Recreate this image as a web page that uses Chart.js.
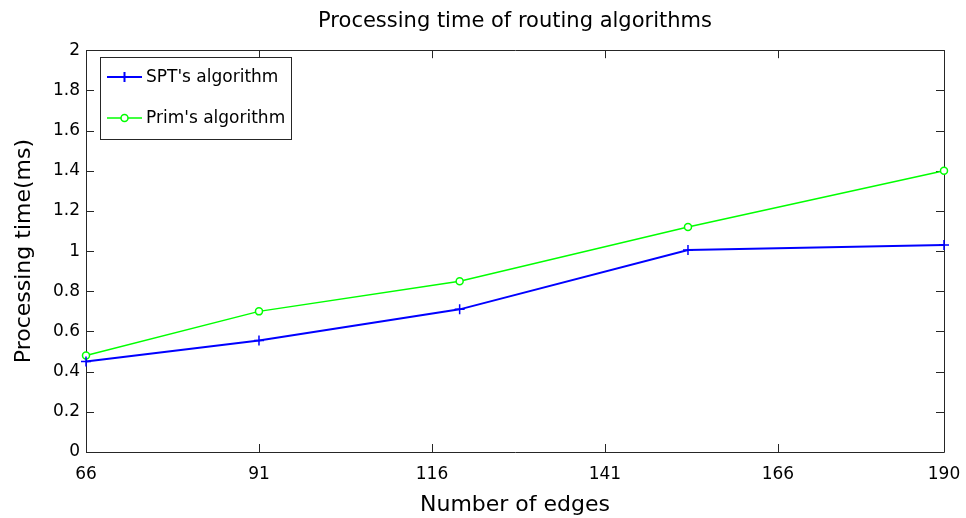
<!DOCTYPE html>
<html>
<head>
<meta charset="utf-8">
<script src="https://cdn.jsdelivr.net/npm/chart.js@4.4.0/dist/chart.umd.min.js"></script>
<style>
  html, body { margin: 0; padding: 0; background: #fff; }
  #wrap { width: 966px; height: 518px; }
</style>
</head>
<body>
<div id="wrap"><canvas id="chart" width="966" height="518"></canvas></div>
<script>
// values
const edges = [66, 91, 120, 153, 190];
const sptTimes = [0.45, 0.555, 0.71, 1.005, 1.03];
const primTimes = [0.48, 0.70, 0.85, 1.12, 1.40];
const xTicks = [66, 91, 116, 141, 166, 190];
const yTicks = [0, 0.2, 0.4, 0.6, 0.8, 1, 1.2, 1.4, 1.6, 1.8, 2];

const FONT = '"DejaVu Sans", sans-serif';
const AXIS_COLOR = '#262626';
const TICK_LEN = 8;

const toPoints = (xs, ys) => xs.map((x, i) => ({ x, y: ys[i] }));

// MATLAB-style box with inward tick marks on all four sides
const axesBox = {
    id: 'axesBox',
    beforeDatasetsDraw(chart) {
        const { ctx, chartArea: a, scales: { x, y } } = chart;
        ctx.save();
        ctx.strokeStyle = AXIS_COLOR;
        ctx.lineWidth = 1;
        ctx.beginPath();
        ctx.rect(Math.round(a.left) + 0.5, Math.round(a.top) + 0.5,
            Math.round(a.right - a.left), Math.round(a.bottom - a.top));
        ctx.stroke();
        ctx.beginPath();
        for (const v of xTicks) {
            const px = Math.round(x.getPixelForValue(v)) + 0.5;
            ctx.moveTo(px, a.bottom); ctx.lineTo(px, a.bottom - TICK_LEN);
            ctx.moveTo(px, a.top); ctx.lineTo(px, a.top + TICK_LEN);
        }
        for (const v of yTicks) {
            const py = Math.round(y.getPixelForValue(v)) + 0.5;
            ctx.moveTo(a.left, py); ctx.lineTo(a.left + TICK_LEN, py);
            ctx.moveTo(a.right, py); ctx.lineTo(a.right - TICK_LEN, py);
        }
        ctx.stroke();
        ctx.restore();
    }
};

// legend box inside the plot, upper left
const boxLegend = {
    id: 'boxLegend',
    afterDraw(chart) {
        const { ctx } = chart;
        const bx = 100, by = 57, bw = 191, bh = 82;
        ctx.save();
        ctx.fillStyle = '#fff';
        ctx.fillRect(bx, by, bw, bh);
        ctx.strokeStyle = AXIS_COLOR;
        ctx.lineWidth = 1;
        ctx.strokeRect(bx + 0.5, by + 0.5, bw, bh);
        ctx.font = '17px ' + FONT;
        ctx.textBaseline = 'middle';
        chart.data.datasets.forEach((ds, i) => {
            const ry = by + 20 + i * 41;
            ctx.strokeStyle = ds.borderColor;
            ctx.lineWidth = ds.borderWidth;
            ctx.beginPath();
            ctx.moveTo(107, ry); ctx.lineTo(142, ry);
            ctx.stroke();
            ctx.fillStyle = ds.backgroundColor;
            ctx.strokeStyle = ds.borderColor;
            Chart.helpers.drawPoint(ctx, {
                pointStyle: ds.pointStyle, radius: ds.pointRadius,
                borderWidth: ds.pointBorderWidth || 1.5
            }, 124.5, ry);
            ctx.fillStyle = '#000';
            ctx.fillText(ds.label, 146, ry + 1);
        });
        ctx.restore();
    }
};

new Chart(document.getElementById('chart'), {
    type: 'line',
    data: {
        datasets: [
            {
                label: "SPT's algorithm",
                data: toPoints(edges, sptTimes),
                borderColor: '#0000ff',
                backgroundColor: '#0000ff',
                borderWidth: 2,
                pointStyle: 'cross',
                pointRadius: 5,
                pointBorderWidth: 1.5,
                clip: false
            },
            {
                label: "Prim's algorithm",
                data: toPoints(edges, primTimes),
                borderColor: '#00ff00',
                backgroundColor: '#ffffff',
                borderWidth: 1.5,
                pointStyle: 'circle',
                pointRadius: 3.5,
                pointBorderWidth: 1.5,
                clip: false
            }
        ]
    },
    options: {
        responsive: false,
        animation: false,
        devicePixelRatio: 1,
        layout: { padding: { left: 0, right: 22, top: 0, bottom: 0 } },
        plugins: {
            legend: { display: false },
            tooltip: { enabled: false },
            title: {
                display: true,
                fullSize: false,
                text: 'Processing time of routing algorithms',
                color: '#000',
                font: { family: FONT, size: 21, weight: 'normal' },
                padding: { top: 9, bottom: 16 }
            }
        },
        scales: {
            x: {
                type: 'linear',
                min: 66,
                max: 190,
                afterFit: (s) => { s.height = 66; s.paddingRight = 0; s.paddingLeft = 0; },
                afterBuildTicks: (s) => { s.ticks = xTicks.map(v => ({ value: v })); },
                grid: { display: false, drawTicks: false },
                border: { display: false },
                ticks: {
                    color: '#000',
                    padding: 12,
                    maxRotation: 0,
                    autoSkip: false,
                    font: { family: FONT, size: 17 }
                },
                title: {
                    display: true,
                    text: 'Number of edges',
                    color: '#000',
                    font: { family: FONT, size: 22 },
                    padding: { top: 0, bottom: 0 }
                }
            },
            y: {
                min: 0,
                max: 2,
                afterFit: (s) => { s.width = 86; },
                afterBuildTicks: (s) => { s.ticks = yTicks.map(v => ({ value: v })); },
                grid: { display: false, drawTicks: false },
                border: { display: false },
                ticks: {
                    color: '#000',
                    padding: 6,
                    autoSkip: false,
                    font: { family: FONT, size: 17 },
                    callback: (v) => String(Math.round(v * 10) / 10)
                },
                title: {
                    display: true,
                    text: 'Processing time(ms)',
                    color: '#000',
                    font: { family: FONT, size: 22 },
                    padding: { top: 11, bottom: 0 }
                }
            }
        }
    },
    plugins: [axesBox, boxLegend]
});
</script>
</body>
</html>
